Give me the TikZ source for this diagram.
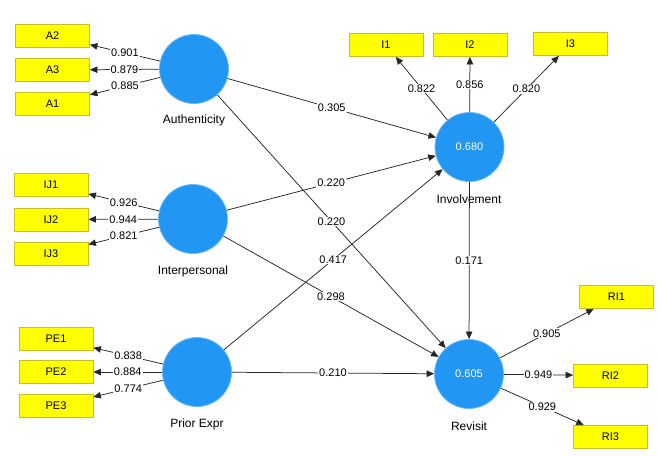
\documentclass[tikz,border=0pt]{standalone}
\usepackage{fontspec}
\setmainfont{Liberation Sans}
\usetikzlibrary{arrows.meta}
\definecolor{lvblue}{RGB}{33,150,243}
\definecolor{lvedge}{RGB}{110,185,245}
\definecolor{mvyellow}{RGB}{255,255,0}
\definecolor{mvborder}{RGB}{200,190,40}
\begin{document}
\begin{tikzpicture}[x=1pt,y=-1pt,
  latent/.style={circle,fill=lvblue,draw=lvedge,line width=0.8pt,minimum size=69pt,inner sep=0pt,text=white,font=\fontsize{11}{12}\selectfont},
  indic/.style={rectangle,fill=mvyellow,draw=mvborder,line width=0.8pt,minimum width=74pt,minimum height=23pt,inner sep=0pt,font=\fontsize{11}{12}\selectfont},
  arr/.style={draw=black!85,line width=0.75pt,-{Triangle[length=7.5pt,width=6.5pt]}},
  coef/.style={fill=white,inner sep=1pt,font=\fontsize{11}{12}\selectfont},
  lname/.style={font=\fontsize{12}{14}\selectfont}]
\useasboundingbox (0,0) rectangle (660,455);
% latent variables
\node[latent] (auth) at (194,69) {};
\node[latent] (inter) at (193,219) {};
\node[latent] (prior) at (197,372) {};
\node[latent] (inv) at (469.5,147) {0.680};
\node[latent] (rev) at (469,374) {0.605};
\node[lname] (authL) at (194,120) {Authenticity};
\node[lname] (interL) at (193,271) {Interpersonal};
\node[lname] (priorL) at (197,424) {Prior Expr};
\node[lname] (invL) at (469,199) {Involvement};
\node[lname] (revL) at (469,426) {Revisit};
% indicators
\node[indic] (A2) at (52.5,36) {A2};
\node[indic] (A3) at (52.5,70) {A3};
\node[indic] (A1) at (52.5,104) {A1};
\node[indic] (IJ1) at (51,185) {IJ1};
\node[indic] (IJ2) at (51,219.5) {IJ2};
\node[indic] (IJ3) at (51,253.5) {IJ3};
\node[indic] (PE1) at (56,339) {PE1};
\node[indic] (PE2) at (56,372) {PE2};
\node[indic] (PE3) at (56,406) {PE3};
\node[indic] (I1) at (386,45) {I1};
\node[indic] (I2) at (470,45) {I2};
\node[indic] (I3) at (570.5,44) {I3};
\node[indic] (RI1) at (616.5,297) {RI1};
\node[indic] (RI2) at (610.5,375.5) {RI2};
\node[indic] (RI3) at (610.5,437) {RI3};
% outer loadings
\draw[arr] (auth) -- node[coef]{0.901} (A2);
\draw[arr] (auth) -- node[coef]{0.879} (A3);
\draw[arr] (auth) -- node[coef]{0.885} (A1);
\draw[arr] (inter) -- node[coef]{0.926} (IJ1);
\draw[arr] (inter) -- node[coef]{0.944} (IJ2);
\draw[arr] (inter) -- node[coef]{0.821} (IJ3);
\draw[arr] (prior) -- node[coef]{0.838} (PE1);
\draw[arr] (prior) -- node[coef]{0.884} (PE2);
\draw[arr] (prior) -- node[coef]{0.774} (PE3);
\draw[arr] (inv) -- node[coef]{0.822} (I1);
\draw[arr] (inv) -- node[coef]{0.856} (I2);
\draw[arr] (inv) -- node[coef]{0.820} (I3);
\draw[arr] (rev) -- node[coef]{0.905} (RI1);
\draw[arr] (rev) -- node[coef]{0.949} (RI2);
\draw[arr] (rev) -- node[coef]{0.929} (RI3);
% structural paths
\draw[arr] (auth) -- node[coef]{0.305} (inv);
\draw[arr] (auth) -- node[coef]{0.220} (rev);
\draw[arr] (inter) -- node[coef]{0.220} (inv);
\draw[arr] (inter) -- node[coef]{0.298} (rev);
\draw[arr] (prior) -- node[coef]{0.417} (inv);
\draw[arr] (prior) -- node[coef]{0.210} (rev);
\draw[arr] (inv) -- node[coef]{0.171} (rev);
\end{tikzpicture}
\end{document}
